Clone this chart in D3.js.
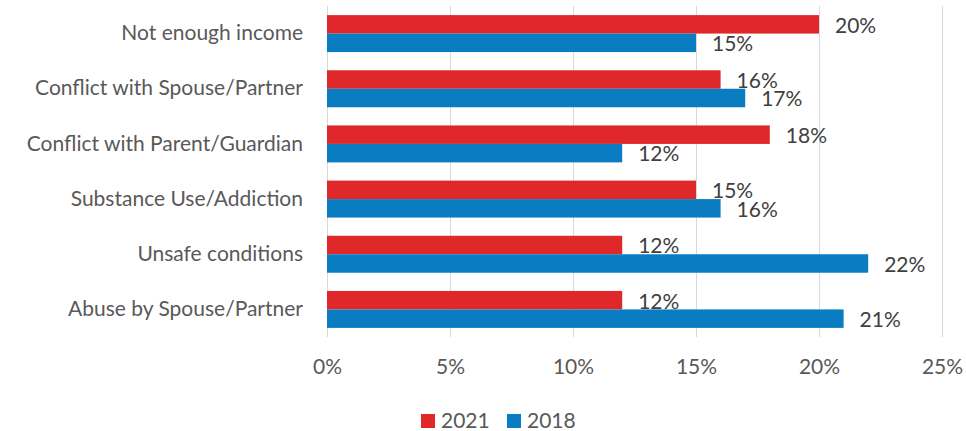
<!DOCTYPE html>
<html>
<head>
<meta charset="utf-8">
<script src="https://cdn.jsdelivr.net/npm/d3@7"></script>
<style>
  html, body { margin: 0; padding: 0; background: #fff; }
  svg { display: block; font-family: Lato, "Open Sans", sans-serif; }
</style>
</head>
<body>
<svg id="chart" width="966" height="431"></svg>
<script>
// Reasons reported, share of respondents by survey year
const categories = [
  "Not enough income",
  "Conflict with Spouse/Partner",
  "Conflict with Parent/Guardian",
  "Substance Use/Addiction",
  "Unsafe conditions",
  "Abuse by Spouse/Partner"
];
const values2021 = [20, 16, 18, 15, 12, 12];
const values2018 = [15, 17, 12, 16, 22, 21];
const seriesNames = ["2021", "2018"];
const seriesColors = ["#E0282A", "#0A7DC2"];
const xTicks = [0, 5, 10, 15, 20, 25];

const svg = d3.select("#chart");
const plotLeft = 327, plotRight = 942, plotTop = 6, plotBottom = 337;
const fontSize = 21;

const x = d3.scaleLinear().domain([0, 25]).range([plotLeft, plotRight]);
const y = d3.scaleBand().domain(categories).range([plotTop, plotBottom])
  .paddingInner(0.33).paddingOuter(0.165);
const ySub = d3.scaleBand().domain(seriesNames).range([0, y.bandwidth()]);

// Vertical gridlines
svg.append("g").selectAll("line").data(xTicks).join("line")
  .attr("x1", d => x(d) + 0.5).attr("x2", d => x(d) + 0.5)
  .attr("y1", plotTop).attr("y2", plotBottom)
  .attr("stroke", "#D9D9D9").attr("stroke-width", 1);

// X axis tick labels
const xAxis = d3.axisBottom(x).tickValues(xTicks).tickFormat(d => d + "%").tickSize(0).tickPadding(0);
const gx = svg.append("g").attr("transform", `translate(0, ${plotBottom + 22})`).call(xAxis);
gx.select(".domain").remove();
gx.selectAll("text").attr("font-size", fontSize).attr("fill", "#595959")
  .attr("font-family", "Lato, 'Open Sans', sans-serif");

// Category labels
const yAxis = d3.axisLeft(y).tickSize(0).tickPadding(24);
const gy = svg.append("g").attr("transform", `translate(${plotLeft}, 0)`).call(yAxis);
gy.select(".domain").remove();
gy.selectAll("text").attr("font-size", fontSize).attr("fill", "#595959")
  .attr("font-family", "Lato, 'Open Sans', sans-serif");

const rows = categories.map((c, i) => ({
  cat: c,
  vals: [
    { s: seriesNames[0], v: values2021[i], color: seriesColors[0] },
    { s: seriesNames[1], v: values2018[i], color: seriesColors[1] }
  ]
}));

const groups = svg.append("g").selectAll("g").data(rows).join("g")
  .attr("transform", d => `translate(0, ${y(d.cat)})`);

groups.selectAll("rect").data(d => d.vals).join("rect")
  .attr("x", x(0))
  .attr("y", d => ySub(d.s))
  .attr("width", d => x(d.v) - x(0))
  .attr("height", ySub.bandwidth())
  .attr("fill", d => d.color);

groups.selectAll("text").data(d => d.vals).join("text")
  .attr("x", d => x(d.v) + 16)
  .attr("y", d => ySub(d.s) + ySub.bandwidth() / 2 + 1)
  .attr("dy", "0.35em")
  .attr("font-size", fontSize)
  .attr("fill", "#404040")
  .text(d => d.v + "%");

// Legend
const legendItems = [
  { name: seriesNames[0], color: seriesColors[0], x: 421 },
  { name: seriesNames[1], color: seriesColors[1], x: 507 }
];
const lg = svg.append("g").selectAll("g").data(legendItems).join("g")
  .attr("transform", d => `translate(${d.x}, 414)`);
lg.append("rect").attr("width", 14).attr("height", 14).attr("fill", d => d.color);
lg.append("text").attr("x", 20).attr("y", 7).attr("dy", "0.35em")
  .attr("font-size", fontSize).attr("fill", "#595959").text(d => d.name);
</script>
</body>
</html>
